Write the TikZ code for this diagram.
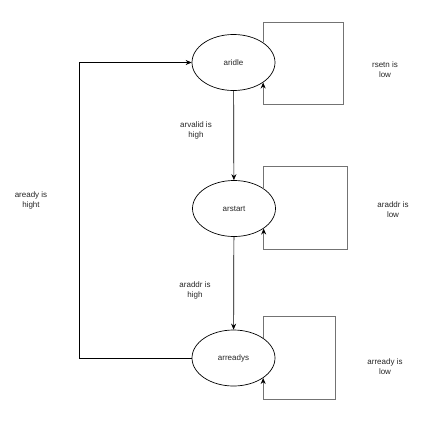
\documentclass[tikz,border=0pt]{standalone}
\usepackage{fontspec}
\setmainfont{Liberation Sans}
\usepackage{tikz}
\usetikzlibrary{shapes.geometric,arrows.meta}

\tikzset{
  state/.style={ellipse, draw, line width=0.7pt, minimum width=83pt, minimum height=56pt, inner sep=0pt, font=\fontsize{8}{10}\selectfont, text=black!85},
  note/.style={align=center, font=\fontsize{8}{10}\selectfont, text=black!85},
  tran/.style={line width=0.7pt, -{Stealth[length=6pt,width=5pt]}},
  selfloop/.style={line width=0.8pt, draw=black!55, -{Stealth[length=6pt,width=5pt,color=black]}}
}

\begin{document}
\begin{tikzpicture}[x=1pt, y=-1pt]

\useasboundingbox (0,0) rectangle (435,431);

\node[state] (aridle)   at (233.5,62.5) {aridle};
\node[state] (arstart)  at (234,208.5)  {arstart};
\node[state] (arreadys) at (233.5,358)  {arreadys};

\draw[tran] (aridle) -- (arstart);
\draw[tran] (arstart) -- (arreadys);
\draw[tran] (arreadys.west) -- ++(-112,0) |- (aridle.west);

% self loops: state / box top / box right / box bottom
\foreach \s/\t/\r/\b in {aridle/22/343/104, arstart/166/347/249, arreadys/316/335/399} {
  \draw[selfloop] (\s.34) -- (\s.34 |- 0,\t) -- (\r,\t) -- (\r,\b)
    -- (\s.-34 |- 0,\b) -- (\s.-34);
}

\node[note] (rsetn)   at (385,69.5) {rsetn is\\low};
\node[note] (arvalid) at (196,130)  {arvalid is\\high};
\node[note] (araddrl) at (393,210)  {araddr is\\low};
\node[note] (araddrh) at (195,290)  {araddr is\\high};
\node[note] (arreadyl) at (385,367) {arready is\\low};
\node[note] (areadyh) at (31,200)   {aready is\\hight};

\end{tikzpicture}
\end{document}
